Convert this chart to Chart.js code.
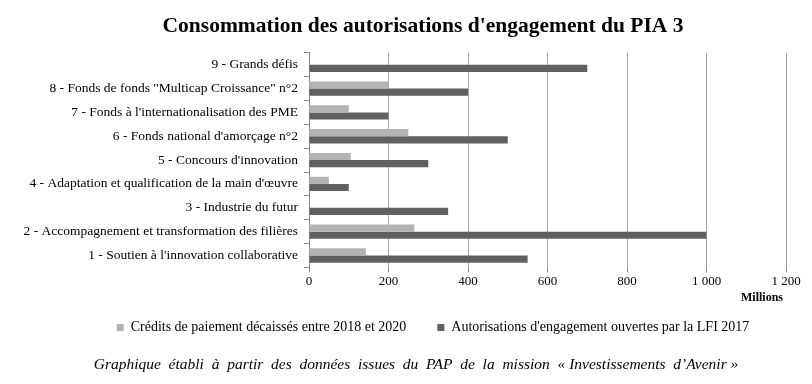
<!DOCTYPE html>
<html>
<head>
<meta charset="utf-8">
<script src="https://cdn.jsdelivr.net/npm/chart.js@4/dist/chart.umd.min.js"></script>
<style>
  html, body { margin: 0; padding: 0; background: #fff; }
  #wrap { width: 812px; height: 384px; }
</style>
</head>
<body>
<div id="wrap"><canvas id="chart"></canvas></div>
<script>
// Programmes du PIA 3 (de haut en bas)
const categories = [
  '9 - Grands défis',
  '8 - Fonds de fonds "Multicap Croissance" n°2',
  "7 - Fonds à l'internationalisation des PME",
  "6 - Fonds national d'amorçage n°2",
  "5 - Concours d'innovation",
  "4 - Adaptation et qualification de la main d'œuvre",
  '3 - Industrie du futur',
  '2 - Accompagnement et transformation des filières',
  "1 - Soutien à l'innovation collaborative"
];

// en millions d'euros
const creditsPaiement = [0, 200, 100, 250, 105, 50, 0, 265, 143];
const autorisationsEngagement = [700, 400, 200, 500, 300, 100, 350, 1000, 550];

const seriesLabels = [
  'Crédits de paiement décaissés entre 2018 et 2020',
  "Autorisations d'engagement ouvertes par la LFI 2017"
];
const xTickLabels = ['0', '200', '400', '600', '800', '1 000', '1 200'];

const footnote = 'Graphique  établi  à  partir  des  données  issues  du  PAP  de  la  mission  « Investissements  d’Avenir »';
const serif = "'Liberation Serif', 'DejaVu Serif', serif";

// titre, légende et note ne sont pas centrés sur le canvas dans l'original
const decalage = { title: 25, subtitle: 18, legend: 35 };
const decalerBlocs = {
  id: 'decalerBlocs',
  afterLayout(chart) {
    const bouger = (box, dx) => {
      if (!box) return;
      box.left += dx;
      box.right += dx;
    };
    bouger(chart.titleBlock, decalage.title);
    bouger(chart.legend, decalage.legend);
    bouger(chart.boxes.find(b => b.options && b.options.text === footnote), decalage.subtitle);
  }
};

const ctx = document.getElementById('chart').getContext('2d');
new Chart(ctx, {
  type: 'bar',
  data: {
    labels: categories,
    datasets: [{
      label: seriesLabels[0],
      data: creditsPaiement,
      backgroundColor: '#b4b4b4'
    }, {
      label: seriesLabels[1],
      data: autorisationsEngagement,
      backgroundColor: '#606060'
    }]
  },
  options: {
    indexAxis: 'y',
    responsive: true,
    maintainAspectRatio: false,
    animation: false,
    layout: { padding: { top: 8, left: 10, right: 26, bottom: 4 } },
    datasets: {
      bar: { barPercentage: 1, categoryPercentage: 0.6 }
    },
    scales: {
      x: {
        min: 0,
        max: 1200,
        ticks: {
          stepSize: 200,
          padding: 1,
          color: '#000',
          font: { family: serif, size: 13 },
          callback: (value, index) => xTickLabels[index]
        },
        grid: { color: '#a8a8a8', tickLength: 5, tickColor: '#8a8a8a' },
        border: { display: false },
        title: {
          display: true,
          text: 'Millions ',
          align: 'end',
          color: '#000',
          padding: { top: 1, bottom: 5 },
          font: { family: serif, size: 12, weight: 'bold' }
        }
      },
      y: {
        afterFit: scale => { scale.width = 299; },
        ticks: {
          padding: 6,
          color: '#000',
          font: { family: serif, size: 13.5 }
        },
        grid: {
          offset: true,
          drawOnChartArea: false,
          tickLength: 5,
          color: '#8a8a8a'
        },
        border: { display: true, color: '#8a8a8a' }
      }
    },
    plugins: {
      title: {
        display: true,
        text: "Consommation des autorisations d'engagement du PIA 3",
        color: '#000',
        padding: { top: 6, bottom: 13 },
        font: { family: serif, size: 21.5, weight: 'bold' }
      },
      subtitle: {
        display: true,
        position: 'bottom',
        text: footnote,
        color: '#000',
        padding: { top: 11, bottom: 6 },
        font: { family: serif, size: 15.5, style: 'italic' }
      },
      legend: {
        position: 'bottom',
        labels: {
          boxWidth: 7,
          boxHeight: 7,
          padding: 10,
          color: '#000',
          font: { family: serif, size: 14 },
          generateLabels: chart => {
            const items = Chart.defaults.plugins.legend.labels.generateLabels(chart);
            items[0].text += '      ';
            return items;
          }
        }
      },
      tooltip: { enabled: false }
    }
  },
  plugins: [decalerBlocs]
});
</script>
</body>
</html>
